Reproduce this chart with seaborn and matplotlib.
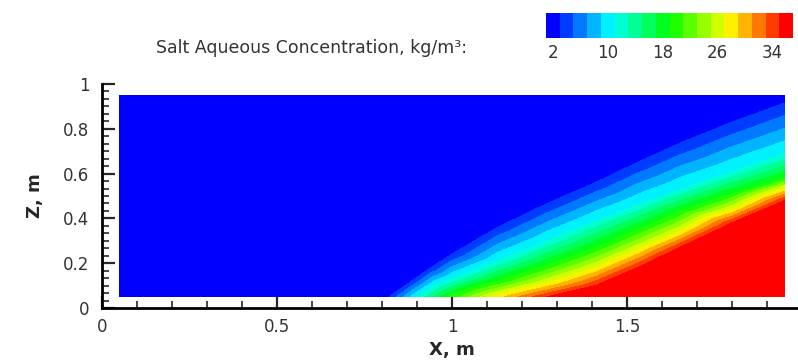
import numpy as np
import matplotlib.pyplot as plt
import matplotlib.tri as mtri
import seaborn as sns
from matplotlib.colors import Normalize
from matplotlib.ticker import AutoMinorLocator

sns.set_theme(style="white")
plt.rcParams['font.family'] = ['DejaVu Sans']

# isoline readings (x, z in m) for salt concentration, kg/m3
# far field, fresh water (dark blue)
c2_x = [0.05, 0.05, 0.05, 0.40, 0.40, 0.40, 0.70, 0.74, 0.86, 1.00, 1.13, 1.27, 1.41, 1.53, 1.65, 1.80,
        0.80, 1.20, 1.60, 1.95]
c2_z = [0.05, 0.50, 0.95, 0.05, 0.50, 0.95, 0.05, 0.16, 0.30, 0.40, 0.48, 0.57, 0.66, 0.74, 0.82, 0.90,
        0.95, 0.95, 0.95, 0.95]
# front edge
c3_x = [0.82, 0.88, 0.94, 1.00, 1.13, 1.27, 1.41, 1.53, 1.65, 1.80, 1.95]
c3_z = [0.05, 0.115, 0.18, 0.24, 0.36, 0.465, 0.56, 0.65, 0.735, 0.83, 0.915]
# cyan
c11_x = [0.90, 0.95, 1.00, 1.13, 1.27, 1.41, 1.53, 1.65, 1.80, 1.95]
c11_z = [0.05, 0.10, 0.13, 0.21, 0.30, 0.39, 0.46, 0.53, 0.61, 0.69]
# green
c19_x = [0.99, 1.13, 1.27, 1.41, 1.53, 1.65, 1.80, 1.95]
c19_z = [0.05, 0.12, 0.19, 0.27, 0.35, 0.43, 0.51, 0.58]
# yellow
c27_x = [1.11, 1.27, 1.41, 1.53, 1.65, 1.80, 1.95]
c27_z = [0.05, 0.11, 0.18, 0.26, 0.34, 0.44, 0.535]
# red edge
c35_x = [1.27, 1.41, 1.53, 1.65, 1.80, 1.95]
c35_z = [0.05, 0.10, 0.18, 0.27, 0.38, 0.48]
# sea water wedge (red)
c36_x = [1.50, 1.75, 1.95, 1.95, 1.75]
c36_z = [0.05, 0.05, 0.05, 0.25, 0.20]

iso = [(2, c2_x, c2_z), (3, c3_x, c3_z), (11, c11_x, c11_z), (19, c19_x, c19_z),
       (27, c27_x, c27_z), (35, c35_x, c35_z), (36, c36_x, c36_z)]

bar_ticks = [2, 10, 18, 26, 34]

xs = np.concatenate([x for _, x, _ in iso])
zs = np.concatenate([z for _, _, z in iso])
cs = np.concatenate([np.full(len(x), v, dtype=float) for v, x, _ in iso])

fig = plt.figure(figsize=(7.98, 3.6), dpi=100)
ax = fig.add_axes([102 / 798, 52 / 360, 700 / 798, 224 / 360])

cmap = sns.blend_palette(["#0000ff", "#00ffff", "#00ff00", "#ffff00", "#ff0000"], as_cmap=True)
tri = mtri.Triangulation(xs, zs)
cf = ax.tricontourf(tri, cs, levels=np.arange(1, 38, 2), cmap=cmap, norm=Normalize(2, 36))

ax.set_xlim(0, 2)
ax.set_ylim(0, 1)
ax.set_xticks([0, 0.5, 1, 1.5, 2])
ax.set_xticklabels(['0', '0.5', '1', '1.5', '2'])
ax.set_yticks([0, 0.2, 0.4, 0.6, 0.8, 1])
ax.set_yticklabels(['0', '0.2', '0.4', '0.6', '0.8', '1'])
ax.xaxis.set_minor_locator(AutoMinorLocator(5))
ax.yaxis.set_minor_locator(AutoMinorLocator(6))
ax.tick_params(which='major', direction='in', length=9, width=1.6, labelsize=12,
               labelcolor='#333333', pad=7, bottom=True, left=True)
ax.tick_params(which='minor', direction='in', length=5, width=1.2, bottom=True, left=True)
ax.tick_params(axis='y', pad=9)
for s in ['top', 'right']:
    ax.spines[s].set_visible(False)
for s in ['left', 'bottom']:
    ax.spines[s].set_color('black')
    ax.spines[s].set_linewidth(2)

ax.set_xlabel('X, m', fontsize=13, fontweight='bold', labelpad=4)
ax.set_ylabel('Z, m', fontsize=13, fontweight='bold', labelpad=14)

cax = fig.add_axes([546 / 798, 1 - 38 / 360, 247 / 798, 25 / 360])
cb = fig.colorbar(cf, cax=cax, orientation='horizontal', ticks=bar_ticks)
cb.outline.set_visible(False)
cb.ax.tick_params(length=0, labelsize=12, labelcolor='#333333', pad=4)
fig.text(467 / 798, 1 - 48 / 360, 'Salt Aqueous Concentration, kg/m³:', ha='right', va='center',
         fontsize=12.5, color='#333333')

fig.savefig('out.png', dpi=100)
